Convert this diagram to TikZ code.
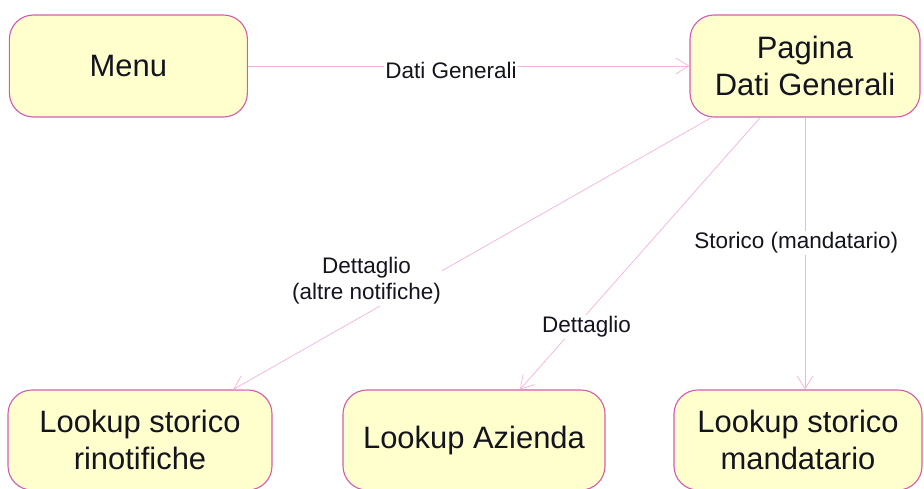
\documentclass[tikz,border=0pt]{standalone}
\usepackage{fontspec}
\setmainfont{Liberation Sans}
\usepackage{xcolor}
\usepackage{tikz}
\usetikzlibrary{calc,arrows.meta,positioning}
\definecolor{pageYellow}{RGB}{255,255,206}
\definecolor{pagePink}{RGB}{214,92,178}
\definecolor{linkPink}{RGB}{242,178,224}
\definecolor{txtgray}{RGB}{20,20,30}

\begin{document}
\begin{tikzpicture}[x=1cm,y=1cm,
    page/.style={draw=pagePink, line width=0.8pt, fill=pageYellow, rounded corners=0.6cm,
        align=center, text=txtgray, font=\fontsize{22}{26}\selectfont,
        minimum height=2.5cm, inner sep=0pt},
    link/.style={draw=linkPink, line width=0.5pt, -{Straight Barb[length=9pt,width=11pt]}},
    lbl/.style={fill=white, inner sep=1pt, align=center, text=txtgray,
        font=\fontsize{16}{19}\selectfont}]

\useasboundingbox (0,0) rectangle (23.1,12.2);

% =========================
% 1. pages
% =========================
\node[page, minimum width=5.95cm, minimum height=2.55cm] (menu) at (3.21,10.55) {Menu};
\node[page, minimum width=5.75cm, minimum height=2.55cm] (pag) at (20.125,10.55) {Pagina\\Dati Generali};

\node[page, minimum width=6.6cm] (rinot) at (3.5,1.2) {Lookup storico\\rinotifiche};
\node[page, minimum width=6.55cm] (azi) at (11.85,1.2) {Lookup Azienda};
\node[page, minimum width=6.2cm] (mand) at (19.95,1.2) {Lookup storico\\mandatario};

% =========================
% 2. links
% =========================
\draw[link] (menu.east) -- (pag.west)
    node[lbl, pos=0.46, yshift=-0.12cm] {Dati Generali};

% to the lookups
\draw[link] ($(pag.south west)+(0.55,0)$) -- ($(rinot.north)+(2.33,0)$)
    node[lbl, pos=0.6, xshift=-1.45cm] {Dettaglio\\(altre notifiche)};
\draw[link] ($(pag.south)+(-1.12,0)$) -- ($(azi.north)+(1.15,0)$)
    node[lbl, pos=0.77, xshift=0.28cm] {Dettaglio};
\draw[link] (pag.south) -- (pag.south |- mand.north)
    node[lbl, pos=0.46, xshift=-0.22cm] {Storico (mandatario)};

\end{tikzpicture}
\end{document}
